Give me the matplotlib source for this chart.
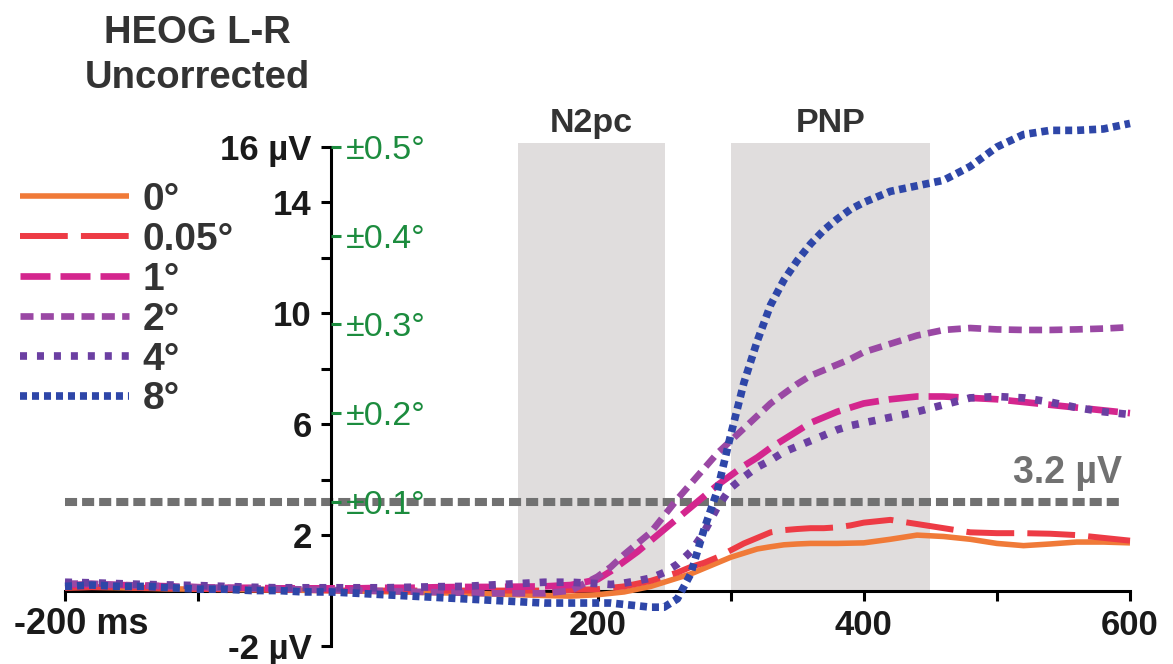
import matplotlib
matplotlib.use("Agg")
import matplotlib.pyplot as plt

plt.rcParams['font.family'] = ['Liberation Sans', 'DejaVu Sans']

# ---------------- data ----------------
time_ms = [-200, -180, -160, -140, -120, -100, -80, -60, -40, -20, 0, 20, 40, 60, 80,
           100, 120, 140, 160, 180, 200, 210, 220, 230, 240, 250, 260, 270, 280, 290,
           300, 310, 320, 330, 340, 350, 360, 370, 380, 390, 400, 420, 440, 460, 480,
           500, 520, 540, 560, 580, 600]

heog_0 = [0.10, 0.12, 0.10, 0.08, 0.06, 0.05, 0.04, 0.03, 0.02, 0.01, 0.00, -0.02, -0.04, -0.06, -0.08,
          -0.10, -0.12, -0.15, -0.18, -0.20, -0.15, -0.10, -0.05, 0.05, 0.15, 0.30, 0.45, 0.60, 0.80, 1.00,
          1.20, 1.35, 1.50, 1.58, 1.65, 1.68, 1.70, 1.70, 1.70, 1.71, 1.72, 1.85, 2.00, 1.95, 1.85,
          1.70, 1.62, 1.68, 1.75, 1.75, 1.72]
heog_005 = [0.10, 0.12, 0.12, 0.10, 0.08, 0.06, 0.05, 0.04, 0.03, 0.02, 0.00, 0.00, 0.00, 0.00, 0.00,
            0.00, 0.00, 0.00, 0.00, 0.02, 0.05, 0.10, 0.15, 0.25, 0.35, 0.50, 0.65, 0.85, 1.00, 1.20,
            1.45, 1.70, 1.90, 2.10, 2.18, 2.22, 2.25, 2.25, 2.28, 2.35, 2.45, 2.55, 2.40, 2.25, 2.10,
            2.07, 2.07, 2.05, 2.00, 1.90, 1.80]
heog_1 = [0.20, 0.22, 0.20, 0.18, 0.15, 0.12, 0.10, 0.10, 0.08, 0.08, 0.08, 0.08, 0.10, 0.10, 0.12,
          0.13, 0.13, 0.14, 0.15, 0.20, 0.40, 0.70, 1.05, 1.40, 1.80, 2.20, 2.60, 3.00, 3.40, 3.80,
          4.15, 4.50, 4.80, 5.15, 5.45, 5.75, 6.05, 6.25, 6.45, 6.60, 6.75, 6.90, 7.00, 7.00, 6.95,
          6.90, 6.80, 6.70, 6.60, 6.50, 6.40]
heog_2 = [0.25, 0.25, 0.20, 0.18, 0.15, 0.12, 0.10, 0.08, 0.06, 0.04, 0.02, 0.00, -0.02, -0.04, -0.06,
          -0.08, -0.10, -0.10, -0.10, 0.00, 0.50, 0.85, 1.30, 1.70, 2.10, 2.70, 3.30, 3.85, 4.40, 4.95,
          5.40, 5.85, 6.30, 6.75, 7.10, 7.45, 7.75, 7.95, 8.15, 8.35, 8.60, 8.90, 9.20, 9.40, 9.47,
          9.42, 9.40, 9.40, 9.42, 9.45, 9.50]
heog_4 = [0.30, 0.28, 0.25, 0.22, 0.20, 0.18, 0.15, 0.12, 0.10, 0.10, 0.10, 0.10, 0.10, 0.12, 0.14,
          0.15, 0.20, 0.25, 0.30, 0.30, 0.25, 0.22, 0.27, 0.35, 0.45, 0.65, 0.95, 1.40, 2.10, 3.00,
          3.70, 4.10, 4.45, 4.70, 5.00, 5.20, 5.40, 5.60, 5.80, 5.95, 6.05, 6.25, 6.45, 6.70, 6.95,
          7.00, 6.95, 6.80, 6.60, 6.45, 6.35]
heog_8 = [0.15, 0.20, 0.15, 0.15, 0.10, 0.05, 0.05, 0.00, 0.00, -0.05, -0.05, -0.10, -0.15, -0.20, -0.25,
          -0.30, -0.35, -0.40, -0.45, -0.45, -0.45, -0.45, -0.50, -0.55, -0.60, -0.60, -0.30, 0.60, 2.20, 3.60,
          5.60, 7.50, 9.00, 10.30, 11.20, 11.90, 12.50, 13.00, 13.40, 13.75, 14.00, 14.40, 14.60, 14.80, 15.30,
          16.00, 16.45, 16.60, 16.60, 16.65, 16.85]

series = [heog_0, heog_005, heog_1, heog_2, heog_4, heog_8]
labels = ['0°', '0.05°', '1°', '2°', '4°', '8°']
colors = ['#f07a38', '#ed3b45', '#d4268e', '#9a48a4', '#6b3fa2', '#2e46a8']
widths = [4.0, 4.3, 4.8, 4.8, 5.5, 5.5]
dash_styles = [None, (8.0, 2.2), (4.5, 1.5), (1.95, 1.1), (0.92, 1.3), (0.92, 0.65)]

n2pc_window = (140, 251)
pnp_window = (300, 450)
window_top = 16.15
threshold_uv = 3.2
threshold_end = 594

y_ticks = [-2, 2, 4, 6, 8, 10, 12, 14, 16]
y_ticklabels = ['-2 µV', '2', '', '6', '', '10', '', '14', '16 µV']
x_ticks = [-200, -100, 100, 200, 300, 400, 500, 600]
x_ticklabels = ['', '', '', '200', '', '400', '', '600']
deg_ticks = [3.2, 6.4, 9.6, 12.8, 16.0]
deg_labels = ['±0.1°', '±0.2°', '±0.3°', '±0.4°', '±0.5°']

# ---------------- figure ----------------
W, H = 1173, 664
fig = plt.figure(figsize=(W / 100, H / 100), dpi=100)
left, right, top, bottom = 65, 1130, 147, 646
ax = fig.add_axes([left / W, 1 - bottom / H, (right - left) / W, (bottom - top) / H])
ax.set_xlim(-200, 600)
ax.set_ylim(-2, 16)
ax.patch.set_visible(False)

shade = '#e0dddd'
for (a, b) in (n2pc_window, pnp_window):
    ax.fill_between([a, b], [0, 0], [window_top, window_top], color=shade, lw=0,
                    zorder=0, clip_on=False)

ax.plot([-200, threshold_end], [threshold_uv, threshold_uv], color='#717171', lw=5.8,
        dashes=(1.5, 0.62), solid_capstyle='butt', dash_capstyle='butt', zorder=1)

handles = []
for y, lab, c, lw, d in zip(series, labels, colors, widths, dash_styles):
    if d is None:
        h, = ax.plot(time_ms, y, color=c, lw=lw, label=lab, clip_on=False, zorder=3,
                     solid_capstyle='butt')
    else:
        h, = ax.plot(time_ms, y, color=c, lw=lw, label=lab, dashes=d, clip_on=False,
                     zorder=3, dash_capstyle='butt')
    handles.append(h)

# spines
for s in ('top', 'right'):
    ax.spines[s].set_visible(False)
ax.spines['left'].set_position(('data', 0))
ax.spines['bottom'].set_position(('data', 0))
for s in ('left', 'bottom'):
    ax.spines[s].set_linewidth(2.2)
    ax.spines[s].set_zorder(2)

ax.set_yticks(y_ticks)
ax.set_yticklabels(y_ticklabels)
ax.set_xticks(x_ticks)
ax.set_xticklabels(x_ticklabels)
ax.tick_params(axis='both', direction='out', length=7, width=2.2, color='black',
               labelsize=25, labelcolor='#1a1a1a')
ax.tick_params(axis='y', pad=7)
ax.tick_params(axis='x', pad=6)
for t in ax.get_xticklabels() + ax.get_yticklabels():
    t.set_fontweight('bold')

ax.annotate('-200 ms', xy=(-200, 0), xytext=(-37, -12), textcoords='offset points',
            ha='left', va='top', fontsize=26, fontweight='bold', color='#1a1a1a',
            annotation_clip=False)

# degree axis (green)
green = '#1c8c3e'
ax2 = ax.twinx()
ax2.set_ylim(-2, 16)
ax2.spines['right'].set_position(('data', 0))
for s in ('top', 'right', 'left', 'bottom'):
    ax2.spines[s].set_visible(False)
ax2.set_yticks(deg_ticks)
ax2.set_yticklabels(deg_labels)
ax2.tick_params(axis='y', direction='out', length=7, width=2.2, color=green,
                labelcolor=green, labelsize=24.5, pad=3.5)

# window labels
ax.text(sum(n2pc_window) / 2, 16.55, 'N2pc', ha='center', va='baseline', fontsize=24.5,
        fontweight='bold', color='#333333', clip_on=False)
ax.text(sum(pnp_window) / 2, 16.55, 'PNP', ha='center', va='baseline', fontsize=24.5,
        fontweight='bold', color='#333333', clip_on=False)
ax.text(threshold_end, 3.88, '3.2 µV', ha='right', va='baseline', fontsize=27,
        fontweight='bold', color='#717171', clip_on=False)

# title
fig.text(197 / W, 1 - 43 / H, 'HEOG L-R', ha='center', va='baseline', fontsize=27.5,
         fontweight='bold', color='#333333')
fig.text(197 / W, 1 - 88 / H, 'Uncorrected', ha='center', va='baseline', fontsize=27.5,
         fontweight='bold', color='#333333')

# legend
leg = fig.legend(handles=handles, labels=labels, loc='upper left',
                 bbox_to_anchor=(20 / W, 1 - 182 / H), frameon=False,
                 prop={'size': 28, 'weight': 'bold'},
                 handlelength=2.8, handletextpad=0.35, labelspacing=0.1,
                 borderpad=0, borderaxespad=0)
for t in leg.get_texts():
    t.set_color('#333333')

fig.savefig('out.png', dpi=100)
